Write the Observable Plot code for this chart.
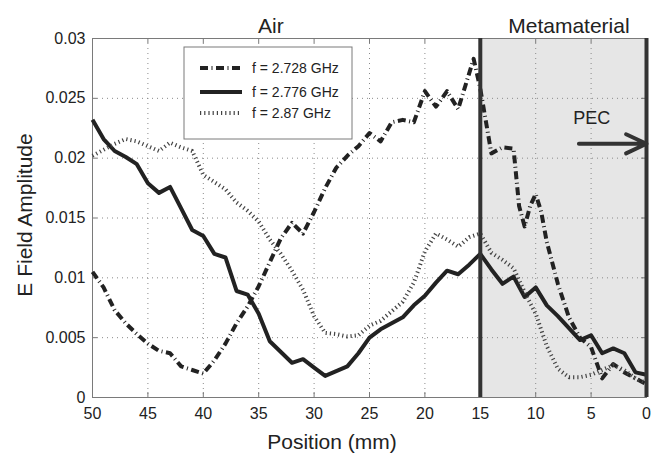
<!DOCTYPE html>
<html><head><meta charset="utf-8">
<script src="https://cdn.jsdelivr.net/npm/d3@7"></script>
<script src="https://cdn.jsdelivr.net/npm/@observablehq/plot@0.6"></script>
<style>
body{margin:0;background:#fff;}
#chart{width:658px;height:455px;}
</style></head><body><div id="chart"></div>
<script>
// ---- data ----
const seriesNames = ["f = 2.728 GHz", "f = 2.776 GHz", "f = 2.87 GHz"];

const pos2728 = [50,49,48,47,46,45,44,43,42,41,40,39,38,37,36,35,34,33,32,31,30,29,28,27,26,25,24,23,22,21,20,19,18,17,15.6,15,14,13,12,11.5,11,10.5,10,9.5,9,8,7,6,5,4,3,2,1,0];
const amp2728 = [0.0105,0.0092,0.0073,0.0062,0.0053,0.0045,0.0039,0.0037,0.0026,0.0023,0.0020,0.0031,0.0045,0.0062,0.0076,0.0093,0.0113,0.0133,0.0146,0.0137,0.0155,0.0175,0.0192,0.0202,0.0210,0.0221,0.0214,0.0230,0.0232,0.0230,0.0256,0.0243,0.0256,0.0241,0.0283,0.0258,0.0204,0.0209,0.0208,0.0160,0.0143,0.0160,0.0170,0.0155,0.0130,0.0095,0.0067,0.0050,0.0042,0.0016,0.0028,0.0021,0.0016,0.0011];

const pos2776 = [50,49,48,47,46,45,44,43,42,41,40,39,38,37,36,35,34,33,32,31,30,29,28,27,26,25,24,23,22,21,20,19,18,17,16,15,14,13,12,11,10,9,8,7,6,5,4,3,2,1,0];
const amp2776 = [0.0232,0.0216,0.0206,0.0201,0.0195,0.0179,0.0171,0.0176,0.0158,0.0140,0.0135,0.0120,0.0117,0.0089,0.0086,0.0070,0.0047,0.0038,0.0029,0.0032,0.0025,0.0018,0.0022,0.0026,0.0037,0.0050,0.0057,0.0062,0.0067,0.0077,0.0085,0.0096,0.0106,0.0103,0.0111,0.0120,0.0107,0.0095,0.0101,0.0084,0.0092,0.0077,0.0068,0.0058,0.0048,0.0052,0.0037,0.0041,0.0037,0.0021,0.0019];

const pos287 = [50,49,48,47,46,45,44,43,42,41,40,39,38,37,36,35,34,33,32,31,30,29,28,27,26,25,24,23,22,21,20,19,18,17,16,15,14,13,12,11,10,9,8,7,6,5,4,3,2,1,0];
const amp287 = [0.0202,0.0207,0.0212,0.0216,0.0214,0.0210,0.0206,0.0213,0.0209,0.0206,0.0186,0.0180,0.0174,0.0163,0.0156,0.0147,0.0132,0.0120,0.0106,0.0090,0.0068,0.0054,0.0053,0.0051,0.0052,0.0060,0.0064,0.0072,0.0080,0.0096,0.0122,0.0137,0.0132,0.0126,0.0134,0.0137,0.0121,0.0115,0.0108,0.0088,0.0070,0.0043,0.0024,0.0017,0.0017,0.0019,0.0023,0.0027,0.0023,0.0016,0.0012];

const xTicks = [50,45,40,35,30,25,20,15,10,5,0];
const yTicks = [0,0.005,0.01,0.015,0.02,0.025,0.03];
const regionNames = ["Air", "Metamaterial"];
const regionCenters = [33.9, 7.0];
const boundaries = [15, 0];
const pecLabel = ["PEC"];
const pecArrow = [{x1: 6.1, x2: 0, y: 0.0212}];
const pecText = [{x: 4.95, y: 0.0233}];

// ---- styles ----
const W = 658, H = 455, mL = 92, mR = 12, mT = 38, mB = 58;
const fw = W - mL - mR, fh = H - mT - mB;
const FONT = "'Liberation Sans', Arial, Helvetica, sans-serif";
const ink = "#222";
const styles = [
  {stroke: "#222", strokeWidth: 4, strokeDasharray: "8,3.5,1,3.5"},
  {stroke: "#222", strokeWidth: 4, strokeDasharray: null},
  {stroke: "#444", strokeWidth: 4, strokeDasharray: "1.2,3"}
];

const mk = (p, a) => p.map((x, i) => ({x, y: a[i]}));
const data = [mk(pos2728, amp2728), mk(pos2776, amp2776), mk(pos287, amp287)];

const lineMarks = data.map((d, i) => Plot.line(d, {
  x: "x", y: "y", stroke: styles[i].stroke, strokeWidth: styles[i].strokeWidth,
  strokeDasharray: styles[i].strokeDasharray, strokeLinejoin: "round", strokeLinecap: "butt"
}));

const chart = Plot.plot({
  width: W, height: H,
  marginLeft: mL, marginRight: mR, marginTop: mT, marginBottom: mB,
  style: {fontFamily: FONT, fontSize: "16px", color: ink, background: "#fff", overflow: "visible"},
  x: {domain: [50, 0], ticks: xTicks, label: null},
  y: {domain: [0, 0.03], ticks: yTicks, label: null},
  marks: [
    Plot.rect([boundaries], {x1: d => d[0], x2: d => d[1], fill: "#e6e6e6"}),
    Plot.gridX(xTicks, {stroke: "#8a8a8a", strokeOpacity: 1, strokeWidth: 1, strokeDasharray: "1,4"}),
    Plot.gridY(yTicks, {stroke: "#8a8a8a", strokeOpacity: 1, strokeWidth: 1, strokeDasharray: "1,4"}),
    Plot.frame({stroke: "#7a7a7a", strokeWidth: 1}),
    Plot.tickX(xTicks, {x: d => d, stroke: "#7a7a7a", insetTop: fh - 5}),
    Plot.tickX(xTicks, {x: d => d, stroke: "#7a7a7a", insetBottom: fh - 5}),
    Plot.tickY(yTicks, {y: d => d, stroke: "#7a7a7a", insetRight: fw - 5}),
    Plot.tickY(yTicks, {y: d => d, stroke: "#7a7a7a", insetLeft: fw - 5}),
    Plot.axisX({ticks: xTicks, tickSize: 0, tickPadding: 10, fontSize: 16, fill: ink, label: null, tickFormat: d => String(d)}),
    Plot.axisY({ticks: yTicks, tickSize: 0, tickPadding: 7, fontSize: 16, fill: ink, label: null, tickFormat: d => String(d)}),
    ...lineMarks,
    Plot.ruleX(boundaries, {stroke: "#333", strokeWidth: 4}),
    Plot.arrow(pecArrow, {x1: "x1", x2: "x2", y1: "y", y2: "y", stroke: "#333", strokeWidth: 4, headLength: 14, headAngle: 50}),
    Plot.text(pecText, {x: "x", y: "y", text: d => pecLabel[0], fontSize: 18, fill: ink}),
    Plot.text(regionNames, {x: (d, i) => regionCenters[i], text: d => d, frameAnchor: "top", dy: -20, fontSize: 21, fill: ink})
  ]
});

document.getElementById("chart").appendChild(chart);

// axis titles and legend (layout elements)
const svg = d3.select(chart);
svg.append("text").attr("x", 332).attr("y", 442).attr("dy", "0.35em")
  .attr("text-anchor", "middle").attr("font-size", 21).attr("fill", ink).attr("font-family", FONT)
  .text("Position (mm)");
svg.append("text").attr("transform", "translate(25,215) rotate(-90)").attr("dy", "0.35em")
  .attr("text-anchor", "middle").attr("font-size", 21).attr("fill", ink).attr("font-family", FONT)
  .text("E Field Amplitude");

const lg = svg.append("g").attr("transform", "translate(184,47)");
lg.append("rect").attr("width", 168).attr("height", 92).attr("fill", "#fff").attr("stroke", "#7a7a7a");
const rowsY = [21, 45, 66];
seriesNames.forEach((name, i) => {
  lg.append("line").attr("x1", 16).attr("x2", 58).attr("y1", rowsY[i]).attr("y2", rowsY[i])
    .attr("stroke", styles[i].stroke).attr("stroke-width", styles[i].strokeWidth)
    .attr("stroke-dasharray", styles[i].strokeDasharray);
  lg.append("text").attr("x", 68).attr("y", rowsY[i]).attr("dy", "0.35em")
    .attr("text-anchor", "start")
    .attr("font-size", 14).attr("fill", ink).attr("font-family", FONT).text(name);
});
</script>
</body></html>
